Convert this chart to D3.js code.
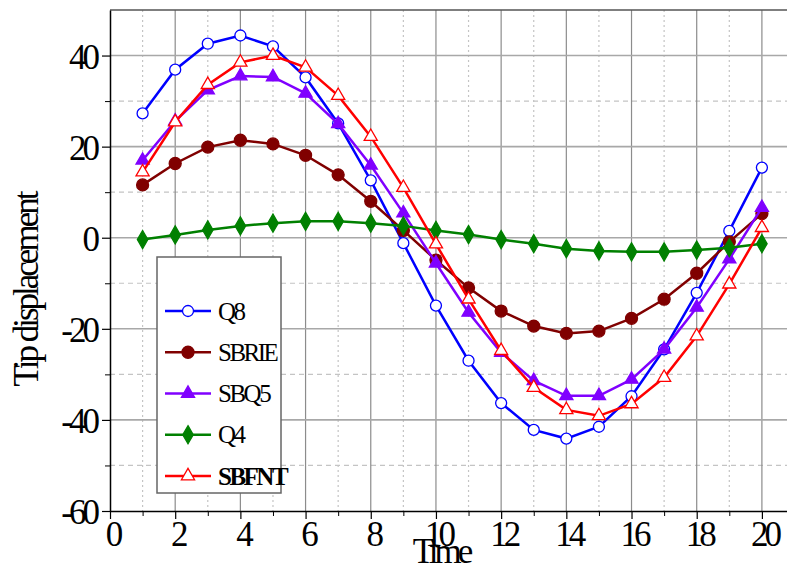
<!DOCTYPE html>
<html>
<head>
<meta charset="utf-8">
<script src="https://cdn.jsdelivr.net/npm/d3@7"></script>
<style>
  body { margin: 0; background: #fff; }
  svg { display: block; font-family: 'Liberation Serif', 'Times New Roman', serif; }
</style>
</head>
<body>
<svg class="chart" width="787" height="567"></svg>
<script>
/****************************************************************
    Data
/****************************************************************/
const time = [1, 2, 3, 4, 5, 6, 7, 8, 9, 10, 11, 12, 13, 14, 15, 16, 17, 18, 19, 20]

const q8 = [27.3, 36.9, 42.6, 44.4, 42.0, 35.2, 25.1, 12.6, -1.2, -14.9, -27.0, -36.3, -42.2, -44.1, -41.5, -34.8, -24.5, -12.1, 1.5, 15.4]
const sbrie = [11.6, 16.3, 19.9, 21.4, 20.6, 18.1, 13.8, 8.0, 1.6, -4.9, -11.0, -16.1, -19.4, -21.0, -20.5, -17.7, -13.5, -7.8, -0.9, 5.3]
const sbq5 = [17.0, 25.6, 32.4, 35.5, 35.3, 31.7, 25.0, 15.9, 5.4, -5.6, -16.4, -25.2, -31.4, -34.7, -34.7, -31.1, -24.5, -15.3, -4.7, 6.6]
const q4 = [-0.4, 0.6, 1.7, 2.6, 3.2, 3.6, 3.6, 3.2, 2.6, 1.6, 0.7, -0.4, -1.3, -2.4, -2.9, -3.1, -3.1, -2.7, -2.2, -1.3]
const sbfnt = [14.4, 25.4, 33.6, 38.5, 40.0, 37.4, 31.2, 22.2, 11.0, -1.4, -13.5, -24.8, -32.9, -37.8, -39.1, -36.5, -30.7, -21.6, -10.2, 2.2]

const seriesNames = ['Q8', 'SBRIE', 'SBQ5', 'Q4', 'SBFNT']
const seriesValues = [q8, sbrie, sbq5, q4, sbfnt]

const xTicks = [0, 2, 4, 6, 8, 10, 12, 14, 16, 18, 20]
const xMinorTicks = [1, 3, 5, 7, 9, 11, 13, 15, 17, 19]
const yTicks = [-60, -40, -20, 0, 20, 40]
const yMinorTicks = [-50, -30, -10, 10, 30]
const yTickLabels = ['-60', '-40', '-20', '0', '20', '40']

/****************************************************************
    Look of each series
/****************************************************************/
const styles = {
  Q8: { color: '#0000ff', marker: 'circle', open: true },
  SBRIE: { color: '#800000', marker: 'circle', open: false },
  SBQ5: { color: '#8000ff', marker: 'triangle', open: false },
  Q4: { color: '#008000', marker: 'diamond', open: false },
  SBFNT: { color: '#ff0000', marker: 'triangle', open: true, bold: true }
}

const svg = d3.select('.chart')
const plotLeft = 110, plotRight = 787, plotTop = 10, plotBottom = 511

const x = d3.scaleLinear().domain([0, 20.77]).range([plotLeft, plotRight])
const y = d3.scaleLinear().domain([-60, 50]).range([plotBottom, plotTop])

/****************************************************************
    Grid lines, minor dashed and major solid
/****************************************************************/
let grid = svg.append('g')
grid.selectAll('.vminor').data(xMinorTicks).enter().append('line')
  .attr('x1', d => x(d)).attr('x2', d => x(d))
  .attr('y1', plotTop).attr('y2', plotBottom)
  .style('stroke', '#c4c4c4').style('stroke-width', 1.2)
  .style('stroke-dasharray', '2,3')
grid.selectAll('.hminor').data(yMinorTicks).enter().append('line')
  .attr('x1', plotLeft).attr('x2', plotRight)
  .attr('y1', d => y(d)).attr('y2', d => y(d))
  .style('stroke', '#c4c4c4').style('stroke-width', 1.2)
  .style('stroke-dasharray', '5,4')
grid.selectAll('.vmajor').data(xTicks.slice(1)).enter().append('line')
  .attr('x1', d => x(d)).attr('x2', d => x(d))
  .attr('y1', plotTop).attr('y2', plotBottom)
  .style('stroke', '#8c8c8c').style('stroke-width', 1.2)
grid.selectAll('.hmajor').data(yTicks.slice(1)).enter().append('line')
  .attr('x1', plotLeft).attr('x2', plotRight)
  .attr('y1', d => y(d)).attr('y2', d => y(d))
  .style('stroke', '#a8a8a8').style('stroke-width', 1.6)

// top frame
svg.append('line')
  .attr('x1', plotLeft).attr('x2', plotRight).attr('y1', plotTop).attr('y2', plotTop)
  .style('stroke', '#555').style('stroke-width', 1.5)

/****************************************************************
    Axes
/****************************************************************/
let axisStyle = g => {
  g.select('.domain').style('stroke', '#000').style('stroke-width', 1.5)
  g.selectAll('.tick line').style('stroke', '#000').style('stroke-width', 1.2)
  g.selectAll('text')
    .style('font-family', "'Liberation Serif', 'Times New Roman', serif")
    .style('font-size', '35px')
    .style('letter-spacing', '-4px')
    .style('fill', '#000')
}

svg.append('g')
  .attr('transform', `translate(0,${plotBottom})`)
  .call(d3.axisBottom(x).tickValues(xMinorTicks).tickSize(5).tickFormat(''))
  .call(g => g.select('.domain').remove())
  .call(g => g.selectAll('.tick line').style('stroke', '#000'))
svg.append('g')
  .attr('transform', `translate(${plotLeft},0)`)
  .call(d3.axisLeft(y).tickValues(yMinorTicks).tickSize(5).tickFormat(''))
  .call(g => g.select('.domain').remove())
  .call(g => g.selectAll('.tick line').style('stroke', '#000'))

svg.append('g')
  .attr('transform', `translate(0,${plotBottom})`)
  .call(d3.axisBottom(x).tickValues(xTicks).tickSize(8).tickPadding(2).tickSizeOuter(0))
  .call(axisStyle)
  .call(g => g.selectAll('text').attr('dx', '2px'))

svg.append('g')
  .attr('transform', `translate(${plotLeft},0)`)
  .call(d3.axisLeft(y).tickValues(yTicks).tickSize(8).tickPadding(6).tickSizeOuter(0)
    .tickFormat((d, i) => yTickLabels[i]))
  .call(axisStyle)
  .call(g => g.selectAll('text').attr('dy', '0.36em'))

svg.append('text')
  .attr('x', 441).attr('y', 563)
  .attr('text-anchor', 'middle')
  .style('font-size', '35px').style('letter-spacing', '-4px')
  .text('Time')

svg.append('text')
  .attr('transform', 'translate(38,290) rotate(-90)')
  .attr('text-anchor', 'middle')
  .style('font-size', '35px').style('letter-spacing', '-3px')
  .text('Tip displacement')

/****************************************************************
    Markers
/****************************************************************/
let drawMarker = (g, cx, cy, st, scale) => {
  let fill = st.open ? '#fff' : st.color
  if (st.marker == 'circle') {
    g.append('circle')
      .attr('cx', cx).attr('cy', cy)
      .attr('r', (st.open ? 5.5 : 6) * scale)
      .style('fill', fill).style('stroke', st.color).style('stroke-width', 1.3)
  } else {
    let type = st.marker == 'triangle' ? d3.symbolTriangle : d3.symbolDiamond
    let size = st.marker == 'triangle' ? 75 : 95
    g.append('path')
      .attr('d', d3.symbol().type(type).size(size * scale * scale)())
      .attr('transform', `translate(${cx},${cy})`)
      .style('fill', fill).style('stroke', st.color).style('stroke-width', 1.3)
  }
}

/****************************************************************
    Series lines and points
/****************************************************************/
let line = d3.line().x((d, i) => x(time[i])).y(d => y(d))

seriesNames.forEach((name, k) => {
  let st = styles[name]
  let g = svg.append('g')
  g.append('path')
    .datum(seriesValues[k])
    .attr('d', line)
    .style('fill', 'none')
    .style('stroke', st.color)
    .style('stroke-width', 2.5)
  seriesValues[k].forEach((v, i) => drawMarker(g, x(time[i]), y(v), st, 1))
})

/****************************************************************
    Legend
/****************************************************************/
let legend = svg.append('g')
legend.append('rect')
  .attr('x', 157).attr('y', 257).attr('width', 124).attr('height', 236)
  .style('fill', '#fff').style('stroke', '#666').style('stroke-width', 1.5)

seriesNames.forEach((name, k) => {
  let st = styles[name]
  let ly = 311 + k * 41.25
  legend.append('line')
    .attr('x1', 165).attr('x2', 211).attr('y1', ly).attr('y2', ly)
    .style('stroke', st.color).style('stroke-width', 2.5)
  drawMarker(legend, 188, ly, st, 1)
  legend.append('text')
    .attr('x', 218).attr('y', ly).attr('dy', '0.34em')
    .style('font-size', '25px').style('letter-spacing', '-2.5px')
    .style('font-weight', st.bold ? 'bold' : 'normal')
    .text(name)
})
</script>
</body>
</html>
